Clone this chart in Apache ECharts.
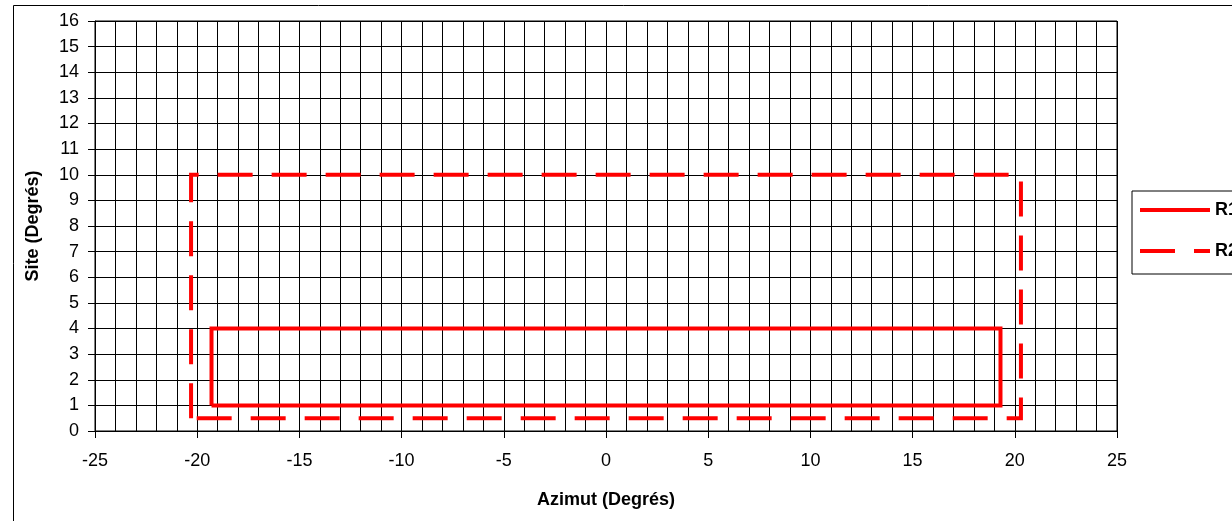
<!DOCTYPE html>
<html>
<head>
<meta charset="utf-8">
<script src="https://cdn.jsdelivr.net/npm/echarts@6/dist/echarts.min.js"></script>
<style>
html,body{margin:0;padding:0;background:#fff;}
#chart{width:1232px;height:521px;}
</style>
</head>
<body>
<div id="chart"></div>
<script>
// Data
var seriesNames = ['R1', 'R2'];
var r1X = [-19.3, -19.3, 19.3, 19.3, -19.3];
var r1Y = [1, 4, 4, 1, 1];
var r2X = [-20.3, -20.3, 20.3, 20.3, -20.3];
var r2Y = [0.5, 10, 10, 0.5, 0.5];
var xTitle = 'Azimut (Degrés)';
var yTitle = 'Site (Degrés)';

function pairs(xs, ys) { return xs.map(function (x, i) { return [x, ys[i]]; }); }

var font = '"Liberation Sans", Arial, sans-serif';
var chart = echarts.init(document.getElementById('chart'), null, {renderer: 'canvas'});
chart.setOption({
  animation: false,
  backgroundColor: '#fff',
  graphic: [{
    type: 'rect', left: 11, top: 3, z: 100, silent: true,
    shape: {width: 1400, height: 700},
    style: {fill: 'none', stroke: '#000', lineWidth: 1}
  }],
  grid: {left: 95, top: 21, right: 115, bottom: 90, show: true, borderColor: '#000', borderWidth: 1, backgroundColor: 'transparent'},
  legend: {
    orient: 'vertical', left: 1132, top: 191,
    padding: [10, 20, 14, 6],
    itemWidth: 70, itemHeight: 14, itemGap: 23, itemTextGap: 4,
    borderColor: '#000', borderWidth: 1, backgroundColor: '#fff',
    itemStyle: {color: 'rgba(0,0,0,0)', borderColor: 'rgba(0,0,0,0)', borderWidth: 0},
    lineStyle: {width: 4, cap: 'butt'},
    textStyle: {fontFamily: font, fontSize: 18, fontWeight: 'bold', color: '#000'},
    data: seriesNames
  },
  xAxis: {
    type: 'value', min: -25, max: 25, interval: 5,
    name: xTitle, nameLocation: 'middle', nameGap: 60,
    nameTextStyle: {fontFamily: font, fontSize: 18, fontWeight: 'bold', color: '#000'},
    axisLine: {show: true, onZero: false, lineStyle: {color: '#000', width: 1}},
    axisTick: {show: true, inside: false, length: 7, lineStyle: {color: '#000'}},
    axisLabel: {margin: 21, fontFamily: font, fontSize: 18, color: '#000'},
    splitLine: {show: true, lineStyle: {color: '#000', width: 1}},
    minorTick: {show: false, splitNumber: 5},
    minorSplitLine: {show: true, lineStyle: {color: '#000', width: 1}}
  },
  yAxis: {
    type: 'value', min: 0, max: 16, interval: 1,
    name: yTitle, nameLocation: 'middle', nameGap: 53, nameRotate: 90,
    nameTextStyle: {fontFamily: font, fontSize: 18, fontWeight: 'bold', color: '#000'},
    axisLine: {show: true, onZero: false, lineStyle: {color: '#000', width: 1}},
    axisTick: {show: true, inside: false, length: 7, lineStyle: {color: '#000'}},
    axisLabel: {margin: 16, fontFamily: font, fontSize: 18, color: '#000'},
    splitLine: {show: true, lineStyle: {color: '#000', width: 1}}
  },
  series: [
    {
      name: seriesNames[0], type: 'line', data: pairs(r1X, r1Y),
      symbol: 'none', clip: false, z: 3,
      lineStyle: {color: '#ff0000', width: 4, cap: 'butt', join: 'miter'},
      itemStyle: {color: '#ff0000'}
    },
    {
      name: seriesNames[1], type: 'line', data: pairs(r2X, r2Y),
      symbol: 'none', clip: false, z: 3,
      lineStyle: {color: '#ff0000', width: 4, type: [35, 19], cap: 'butt', join: 'miter'},
      itemStyle: {color: '#ff0000'}
    }
  ]
});
</script>
</body>
</html>
